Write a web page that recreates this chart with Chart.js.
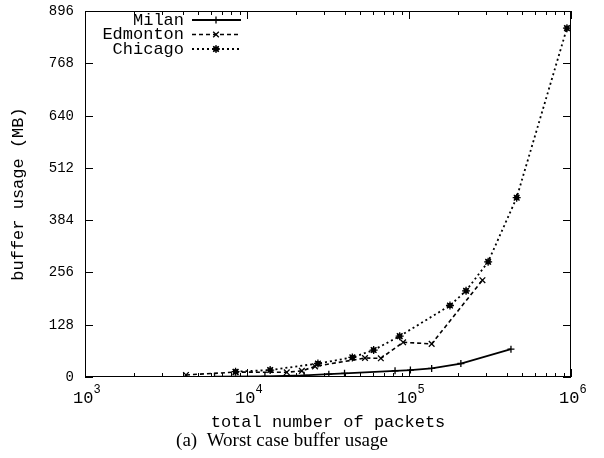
<!DOCTYPE html>
<html>
<head>
<meta charset="utf-8">
<script src="https://cdn.jsdelivr.net/npm/chart.js@4.4.0/dist/chart.umd.min.js"></script>
<style>
  html, body { margin: 0; padding: 0; background: #fff; }
</style>
</head>
<body>
<canvas id="chart" width="604" height="458"></canvas>
<script>
// values (packets, MB)
const milanPackets = [6300, 12900, 22500, 32000, 40000, 82000, 102000, 138000, 209000, 426000];
const milanBuffer = [1, 1.5, 4, 7, 9, 15, 17, 21, 33, 68];

const edmontonPackets = [4200, 8500, 17600, 21800, 26300, 53500, 67000, 92000, 138000, 284000];
const edmontonBuffer = [5, 12, 11.5, 15, 26, 46.5, 45.7, 85, 81, 237];

const chicagoPackets = [8500, 13900, 27400, 44700, 60500, 87600, 179000, 225000, 308000, 462000, 944000];
const chicagoBuffer = [13, 17, 33, 48, 66, 100, 175, 211, 282, 439, 854];

const yTicks = [0, 128, 256, 384, 512, 640, 768, 896];
const xDecades = [3, 4, 5, 6];

const tickFont = "14px 'Liberation Mono', 'DejaVu Sans Mono', monospace";
const bigFont = "17px 'Liberation Mono', 'DejaVu Sans Mono', monospace";
const expFont = "12px 'Liberation Mono', 'DejaVu Sans Mono', monospace";

function toPoints(xs, ys) {
  return xs.map((x, i) => ({ x: x, y: ys[i] }));
}

const frameAndText = {
  id: "frameAndText",
  afterDraw(chart) {
    const ctx = chart.ctx;
    const area = chart.chartArea;
    const xs = chart.scales.x;
    const ys = chart.scales.y;
    ctx.save();
    ctx.strokeStyle = "#000";
    ctx.fillStyle = "#000";
    ctx.lineWidth = 1;

    // frame
    ctx.strokeRect(area.left + 0.5, area.top + 0.5, area.right - area.left - 1, area.bottom - area.top - 1);

    // y ticks, inward on both sides
    ctx.font = tickFont;
    ctx.textAlign = "right";
    ctx.textBaseline = "middle";
    for (const v of yTicks) {
      const py = Math.round(ys.getPixelForValue(v)) + 0.5;
      ctx.beginPath();
      ctx.moveTo(area.left, py); ctx.lineTo(area.left + 8, py);
      ctx.moveTo(area.right, py); ctx.lineTo(area.right - 8, py);
      ctx.stroke();
      ctx.fillText(String(v), area.left - 11, py);
    }

    // x ticks, major and minor, inward on bottom and top
    for (const d of xDecades) {
      const px = Math.round(xs.getPixelForValue(Math.pow(10, d))) + 0.5;
      ctx.beginPath();
      ctx.moveTo(px, area.bottom); ctx.lineTo(px, area.bottom - 8);
      ctx.moveTo(px, area.top); ctx.lineTo(px, area.top + 8);
      ctx.stroke();
      // label 10^d
      ctx.font = bigFont;
      ctx.textAlign = "right";
      ctx.textBaseline = "middle";
      ctx.fillText("10", px + 8, area.bottom + 21);
      ctx.font = expFont;
      ctx.textAlign = "left";
      ctx.fillText(String(d), px + 8, area.bottom + 13);
      if (d < 6) {
        for (let m = 2; m <= 9; m++) {
          const mx = Math.round(xs.getPixelForValue(m * Math.pow(10, d))) + 0.5;
          ctx.beginPath();
          ctx.moveTo(mx, area.bottom); ctx.lineTo(mx, area.bottom - 4);
          ctx.moveTo(mx, area.top); ctx.lineTo(mx, area.top + 4);
          ctx.stroke();
        }
      }
    }

    // axis titles
    ctx.font = bigFont;
    ctx.textAlign = "center";
    ctx.textBaseline = "middle";
    ctx.fillText("total number of packets", (area.left + area.right) / 2, 422);
    ctx.save();
    ctx.translate(18, (area.top + area.bottom) / 2);
    ctx.rotate(-Math.PI / 2);
    ctx.fillText("buffer usage (MB)", 0, 0);
    ctx.restore();

    // caption
    ctx.font = "19px 'Liberation Serif', 'Times New Roman', serif";
    ctx.fillText("(a)  Worst case buffer usage", 282, 441);

    // legend: label, then line sample with marker
    chart.data.datasets.forEach((ds, i) => {
      const ly = 20 + i * 14.5;
      ctx.font = bigFont;
      ctx.textAlign = "right";
      ctx.fillStyle = "#000";
      ctx.fillText(ds.label, 184, ly);
      ctx.beginPath();
      ctx.setLineDash(ds.borderDash || []);
      ctx.lineWidth = ds.borderWidth;
      ctx.moveTo(192, ly); ctx.lineTo(241, ly);
      ctx.stroke();
      ctx.setLineDash([]);
      ctx.lineWidth = 1.3;
      Chart.helpers.drawPoint(ctx, { pointStyle: ds.pointStyle, radius: ds.pointRadius, rotation: 0, borderWidth: 1.3 }, 216, ly);
      if (ds.pointStyle === "star") ctx.fillRect(216 - 2.5, ly - 2.5, 5, 5);
    });
    ctx.restore();
  }
};

// gnuplot's point type 3 looks like a filled box behind a star
const starBox = {
  id: "starBox",
  afterDatasetsDraw(chart) {
    const ctx = chart.ctx;
    ctx.save();
    ctx.fillStyle = "#000";
    const meta = chart.getDatasetMeta(2);
    for (const el of meta.data) {
      ctx.fillRect(el.x - 2.5, el.y - 2.5, 5, 5);
    }
    ctx.restore();
  }
};

new Chart(document.getElementById("chart"), {
  type: "line",
  data: {
    datasets: [
      {
        label: "Milan",
        data: toPoints(milanPackets, milanBuffer),
        borderColor: "#000",
        backgroundColor: "#000",
        borderWidth: 1.8,
        pointStyle: "cross",
        pointRadius: 3.5,
        pointBorderWidth: 1.3
      },
      {
        label: "Edmonton",
        data: toPoints(edmontonPackets, edmontonBuffer),
        borderColor: "#000",
        backgroundColor: "#000",
        borderWidth: 1.6,
        borderDash: [4, 3],
        pointStyle: "crossRot",
        pointRadius: 4,
        pointBorderWidth: 1.3
      },
      {
        label: "Chicago",
        data: toPoints(chicagoPackets, chicagoBuffer),
        borderColor: "#000",
        backgroundColor: "#000",
        borderWidth: 1.8,
        borderDash: [2, 3],
        pointStyle: "star",
        pointRadius: 4,
        pointBorderWidth: 1.3
      }
    ]
  },
  options: {
    responsive: false,
    animation: false,
    layout: { padding: { top: 11, right: 33, left: 0, bottom: 0 } },
    plugins: {
      legend: { display: false },
      tooltip: { enabled: false }
    },
    scales: {
      x: {
        type: "logarithmic",
        min: 1000,
        max: 1000000,
        ticks: { display: false },
        grid: { display: false },
        border: { display: false },
        afterFit(scale) { scale.height = 81; }
      },
      y: {
        type: "linear",
        min: 0,
        max: 896,
        ticks: { display: false },
        grid: { display: false },
        border: { display: false },
        afterFit(scale) { scale.width = 85; }
      }
    }
  },
  plugins: [frameAndText, starBox]
});
</script>
</body>
</html>
